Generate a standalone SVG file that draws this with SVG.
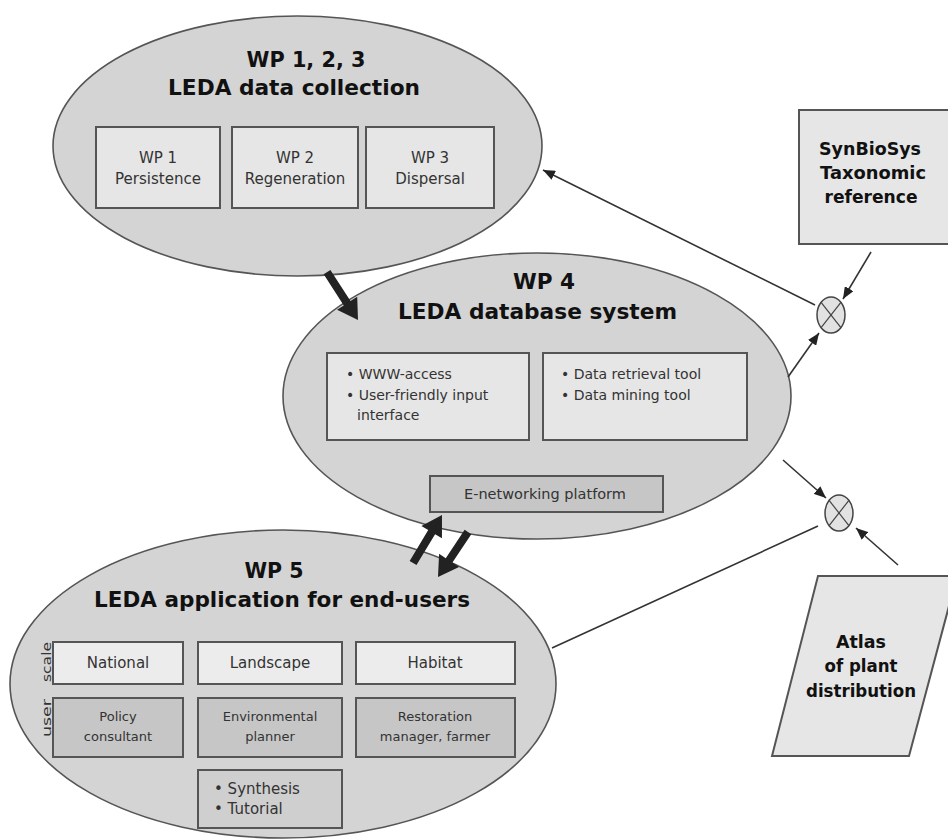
<svg xmlns="http://www.w3.org/2000/svg" width="948" height="839" viewBox="0 0 948 839">
<defs>
<style>
.ell{fill:#d4d4d4;stroke:#555;stroke-width:1.6}
.box{fill:#e6e6e6;stroke:#555;stroke-width:2}
.lbox{fill:#ececec;stroke:#555;stroke-width:2}
.dbox{fill:#c6c6c6;stroke:#555;stroke-width:2}
.sbox{fill:#cfcfcf;stroke:#555;stroke-width:2}
.ttl{font-family:"DejaVu Sans","Liberation Sans",sans-serif;font-weight:bold;fill:#111;text-anchor:middle}
.t{font-family:"DejaVu Sans","Liberation Sans",sans-serif;fill:#333;text-anchor:middle}
.tl{font-family:"DejaVu Sans","Liberation Sans",sans-serif;fill:#333}
.thin{stroke:#333;stroke-width:1.6;fill:none}
.thick{fill:#222}
.sum{fill:#e2e2e2;stroke:#444;stroke-width:1.5}
.x{stroke:#444;stroke-width:1.2}
</style>
<marker id="ah" markerUnits="userSpaceOnUse" markerWidth="12" markerHeight="10" viewBox="0 0 12 10" refX="12" refY="5" orient="auto">
<path d="M0,0 L12,5 L0,10 z" fill="#222"/>
</marker>
</defs>
<rect width="948" height="839" fill="#fff"/>

<g id="wp123">
<ellipse class="ell" cx="297.5" cy="146" rx="244.5" ry="130"/>
<text class="ttl" x="306" y="67" font-size="21" textLength="119" lengthAdjust="spacingAndGlyphs">WP 1, 2, 3</text>
<text class="ttl" x="294" y="95" font-size="21" textLength="252" lengthAdjust="spacingAndGlyphs">LEDA data collection</text>
<g id="wp1">
<rect class="box" x="96" y="127" width="124" height="81"/>
<text class="t" x="158" y="163" font-size="15">WP 1</text>
<text class="t" x="158" y="184" font-size="15">Persistence</text>
</g>
<g id="wp2">
<rect class="box" x="232" y="127" width="126" height="81"/>
<text class="t" x="295" y="163" font-size="15">WP 2</text>
<text class="t" x="295" y="184" font-size="15">Regeneration</text>
</g>
<g id="wp3">
<rect class="box" x="366" y="127" width="128" height="81"/>
<text class="t" x="430" y="163" font-size="15">WP 3</text>
<text class="t" x="430" y="184" font-size="15">Dispersal</text>
</g>
</g>

<g id="wp4">
<ellipse class="ell" cx="537" cy="396" rx="254" ry="143"/>
<text class="ttl" x="544" y="289" font-size="22" textLength="62" lengthAdjust="spacingAndGlyphs">WP 4</text>
<text class="ttl" x="537.5" y="319" font-size="22" textLength="279" lengthAdjust="spacingAndGlyphs">LEDA database system</text>
<g id="wp4-access">
<rect class="box" x="327" y="353" width="202" height="87"/>
<text class="tl" x="346" y="379" font-size="14">• WWW-access</text>
<text class="tl" x="346" y="400" font-size="14">• User-friendly input</text>
<text class="tl" x="357" y="420" font-size="14">interface</text>
</g>
<g id="wp4-tools">
<rect class="box" x="543" y="353" width="204" height="87"/>
<text class="tl" x="561" y="379" font-size="14">• Data retrieval tool</text>
<text class="tl" x="561" y="400" font-size="14">• Data mining tool</text>
</g>
<g id="wp4-enet">
<rect class="dbox" x="430" y="476" width="233" height="36"/>
<text class="t" x="545" y="499" font-size="14.5">E-networking platform</text>
</g>
</g>

<g id="wp5">
<ellipse class="ell" cx="283" cy="684" rx="273" ry="154"/>
<text class="ttl" x="274" y="578" font-size="22" textLength="59" lengthAdjust="spacingAndGlyphs">WP 5</text>
<text class="ttl" x="282" y="607" font-size="22" textLength="376" lengthAdjust="spacingAndGlyphs">LEDA application for end-users</text>
<text class="tl" transform="translate(51,682) rotate(-90)" font-size="13" textLength="40" lengthAdjust="spacingAndGlyphs">scale</text>
<text class="tl" transform="translate(51,737) rotate(-90)" font-size="13" textLength="38" lengthAdjust="spacingAndGlyphs">user</text>
<g id="national">
<rect class="lbox" x="53" y="642" width="130" height="42"/>
<text class="t" x="118" y="668" font-size="15">National</text>
</g>
<g id="landscape">
<rect class="lbox" x="198" y="642" width="144" height="42"/>
<text class="t" x="270" y="668" font-size="15">Landscape</text>
</g>
<g id="habitat">
<rect class="lbox" x="356" y="642" width="159" height="42"/>
<text class="t" x="435" y="668" font-size="15">Habitat</text>
</g>
<g id="policy">
<rect class="dbox" x="53" y="698" width="130" height="59"/>
<text class="t" x="118" y="721" font-size="13">Policy</text>
<text class="t" x="118" y="741" font-size="13">consultant</text>
</g>
<g id="planner">
<rect class="dbox" x="198" y="698" width="144" height="59"/>
<text class="t" x="270" y="721" font-size="13">Environmental</text>
<text class="t" x="270" y="741" font-size="13">planner</text>
</g>
<g id="restoration">
<rect class="dbox" x="356" y="698" width="159" height="59"/>
<text class="t" x="435" y="721" font-size="13">Restoration</text>
<text class="t" x="435" y="741" font-size="13">manager, farmer</text>
</g>
<g id="synthesis">
<rect class="sbox" x="198" y="770" width="144" height="58"/>
<text class="tl" x="214" y="794" font-size="15">• Synthesis</text>
<text class="tl" x="214" y="814" font-size="15">• Tutorial</text>
</g>
</g>

<g id="synbiosys">
<rect class="box" x="799" y="110" width="160" height="134"/>
<text class="ttl" x="870" y="155" font-size="17" textLength="102" lengthAdjust="spacingAndGlyphs">SynBioSys</text>
<text class="ttl" x="873" y="179" font-size="17" textLength="106" lengthAdjust="spacingAndGlyphs">Taxonomic</text>
<text class="ttl" x="871" y="203" font-size="17" textLength="93" lengthAdjust="spacingAndGlyphs">reference</text>
</g>

<g id="atlas">
<polygon class="box" points="818,576 957,576 909,756 772,756"/>
<text class="ttl" x="861" y="648" font-size="17" textLength="50" lengthAdjust="spacingAndGlyphs">Atlas</text>
<text class="ttl" x="861" y="672" font-size="17" textLength="73" lengthAdjust="spacingAndGlyphs">of plant</text>
<text class="ttl" x="861" y="697" font-size="17" textLength="110" lengthAdjust="spacingAndGlyphs">distribution</text>
</g>

<g id="combine1">
<ellipse class="sum" cx="831" cy="315" rx="14" ry="18"/>
<line class="x" x1="821.1" y1="302.3" x2="840.9" y2="327.7"/>
<line class="x" x1="840.9" y1="302.3" x2="821.1" y2="327.7"/>
</g>
<g id="combine2">
<ellipse class="sum" cx="839" cy="513" rx="14" ry="18"/>
<line class="x" x1="829.1" y1="500.3" x2="848.9" y2="525.7"/>
<line class="x" x1="848.9" y1="500.3" x2="829.1" y2="525.7"/>
</g>

<g id="connectors">
<line class="thin" x1="815" y1="305" x2="543" y2="170" marker-end="url(#ah)"/>
<line class="thin" x1="871" y1="252" x2="843" y2="299" marker-end="url(#ah)"/>
<line class="thin" x1="788" y1="377" x2="819" y2="333" marker-end="url(#ah)"/>
<line class="thin" x1="783" y1="460" x2="826" y2="498" marker-end="url(#ah)"/>
<line class="thin" x1="898" y1="565" x2="856" y2="528" marker-end="url(#ah)"/>
<line class="thin" x1="818" y1="526" x2="552" y2="648"/>
<path class="thick" transform="translate(358,320) rotate(57.1)" d="M-57,-4 L-20,-4 L-20,-12 L0,0 L-20,12 L-20,4 L-57,4 Z"/>
<path class="thick" transform="translate(442,515) rotate(-58.9)" d="M-56,-4 L-20,-4 L-20,-12 L0,0 L-20,12 L-20,4 L-56,4 Z"/>
<path class="thick" transform="translate(438,577) rotate(123.7)" d="M-54,-4 L-20,-4 L-20,-12 L0,0 L-20,12 L-20,4 L-54,4 Z"/>
</g>
</svg>
